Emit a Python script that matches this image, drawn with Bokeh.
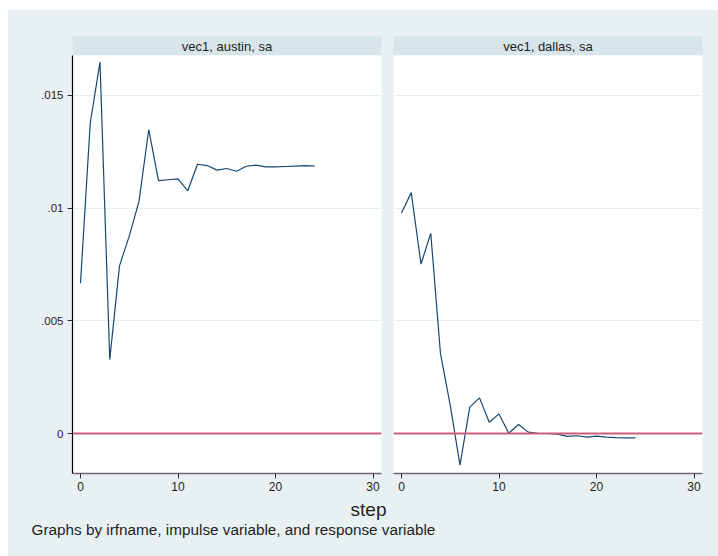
from bokeh.plotting import figure
from bokeh.models import Range1d, FixedTicker, Span, Spacer
from bokeh.layouts import row, column
from bokeh.core.properties import value
from bokeh.embed import file_html
from bokeh.resources import INLINE

# ---- data ----
steps = list(range(25))
austin = [0.00667, 0.01378, 0.01648, 0.00328, 0.00744, 0.00876, 0.01030, 0.01349,
          0.01122, 0.01126, 0.01130, 0.01077, 0.01195, 0.01189, 0.01169, 0.01176,
          0.01164, 0.01186, 0.01191, 0.01183, 0.01183, 0.01185, 0.01187, 0.01189, 0.01187]
dallas = [0.00979, 0.01069, 0.00752, 0.00888, 0.00354, 0.00125, -0.00140, 0.00117,
          0.00158, 0.00050, 0.00087, 0.00001, 0.00040, 0.00006, 0.00001, 0.00000,
          -0.00003, -0.00013, -0.00010, -0.00016, -0.00012, -0.00016, -0.00018, -0.00019, -0.00019]
panel_titles = ["vec1, austin, sa", "vec1, dallas, sa"]
x_ticks = [0, 10, 20, 30]
y_ticks = [0, 0.005, 0.01, 0.015]
y_tick_labels = {0: "0", 0.005: ".005", 0.01: ".01", 0.015: ".015"}
x_title = "step"
note = "Graphs by irfname, impulse variable, and response variable"

BG = "#e9f0f2"
STRIP = "#d8e5ea"
LINE = "#1a476f"
ZERO = "#c95f7d"
GRID = "#e6eef0"
FONT = "Liberation Sans"

XR = (-0.82, 30.87)
YR = (-0.001775, 0.016775)

widths = [379, 331]
left_borders = [64, 6]
right_borders = [6, 16]


def make_strip(i):
    s = figure(width=widths[i], height=45, x_range=Range1d(0, 1), y_range=Range1d(0, 1),
               x_axis_location=None, y_axis_location=None, toolbar_location=None,
               output_backend="svg", min_border_left=left_borders[i],
               min_border_right=right_borders[i], min_border_top=26, min_border_bottom=0)
    s.background_fill_color = STRIP
    s.border_fill_color = BG
    s.outline_line_color = None
    s.grid.visible = False
    s.text(x=[0.5], y=[0.5], text=[panel_titles[i]], text_align="center",
           text_baseline="middle", text_font=value(FONT), text_font_size="13px",
           text_color="#1e1e1e")
    return s


def make_panel(i, data):
    p = figure(width=widths[i], height=442, x_range=Range1d(*XR), y_range=Range1d(*YR),
               y_axis_location="left" if i == 0 else None, toolbar_location=None,
               output_backend="svg", min_border_left=left_borders[i],
               min_border_right=right_borders[i], min_border_top=0, min_border_bottom=24)
    p.background_fill_color = "white"
    p.border_fill_color = BG
    p.outline_line_color = None
    p.xgrid.visible = False
    p.ygrid.ticker = FixedTicker(ticks=y_ticks)
    p.ygrid.grid_line_color = GRID
    p.ygrid.grid_line_width = 1

    p.xaxis.ticker = FixedTicker(ticks=x_ticks)
    p.xaxis.axis_line_color = "#6b6b6b"
    p.xaxis.axis_line_width = 1.5
    p.xaxis.major_tick_line_color = "#333333"
    p.xaxis.major_tick_out = 5
    p.xaxis.major_tick_in = 0
    p.xaxis.minor_tick_line_color = None
    p.xaxis.major_label_text_font = FONT
    p.xaxis.major_label_text_font_size = "12px"
    p.xaxis.major_label_text_color = "#1e1e1e"
    p.xaxis.major_label_standoff = 3

    if i == 0:
        p.yaxis.ticker = FixedTicker(ticks=y_ticks)
        p.yaxis.major_label_overrides = y_tick_labels
        p.yaxis.axis_line_color = "#000000"
        p.yaxis.axis_line_width = 1.2
        p.yaxis.major_tick_line_color = "#333333"
        p.yaxis.major_tick_out = 5
        p.yaxis.major_tick_in = 0
        p.yaxis.minor_tick_line_color = None
        p.yaxis.major_label_text_font = FONT
        p.yaxis.major_label_text_font_size = "11.5px"
        p.yaxis.major_label_text_color = "#1e1e1e"
        p.yaxis.major_label_standoff = 4

    p.add_layout(Span(location=0, dimension="width", line_color=ZERO, line_width=1.8))
    p.line(steps, data, line_color=LINE, line_width=1.2)
    return p


s1, s2 = make_strip(0), make_strip(1)
p1, p2 = make_panel(0, austin), make_panel(1, dallas)

bottom = figure(width=710, height=59, x_range=Range1d(0, 710), y_range=Range1d(59, 0),
                x_axis_location=None, y_axis_location=None, toolbar_location=None,
                output_backend="svg", min_border_left=0, min_border_right=0,
                min_border_top=0, min_border_bottom=0)
bottom.background_fill_color = BG
bottom.border_fill_color = BG
bottom.outline_line_color = None
bottom.grid.visible = False
bottom.text(x=[360], y=[12], text=[x_title], text_align="center", text_baseline="middle",
            text_font=value(FONT), text_font_size="19px", text_color="#1e1e1e")
bottom.text(x=[23], y=[32], text=[note], text_align="left", text_baseline="middle",
            text_font=value(FONT), text_font_size="15.3px", text_color="#1e1e1e")

inner = column(row(s1, s2, styles={"background-color": BG}),
               row(p1, p2, styles={"background-color": BG}),
               bottom, styles={"background-color": BG})
layout = column(Spacer(width=718, height=10),
                row(Spacer(width=8, height=546), inner))

open("out.html", "w").write(file_html(layout, INLINE))
